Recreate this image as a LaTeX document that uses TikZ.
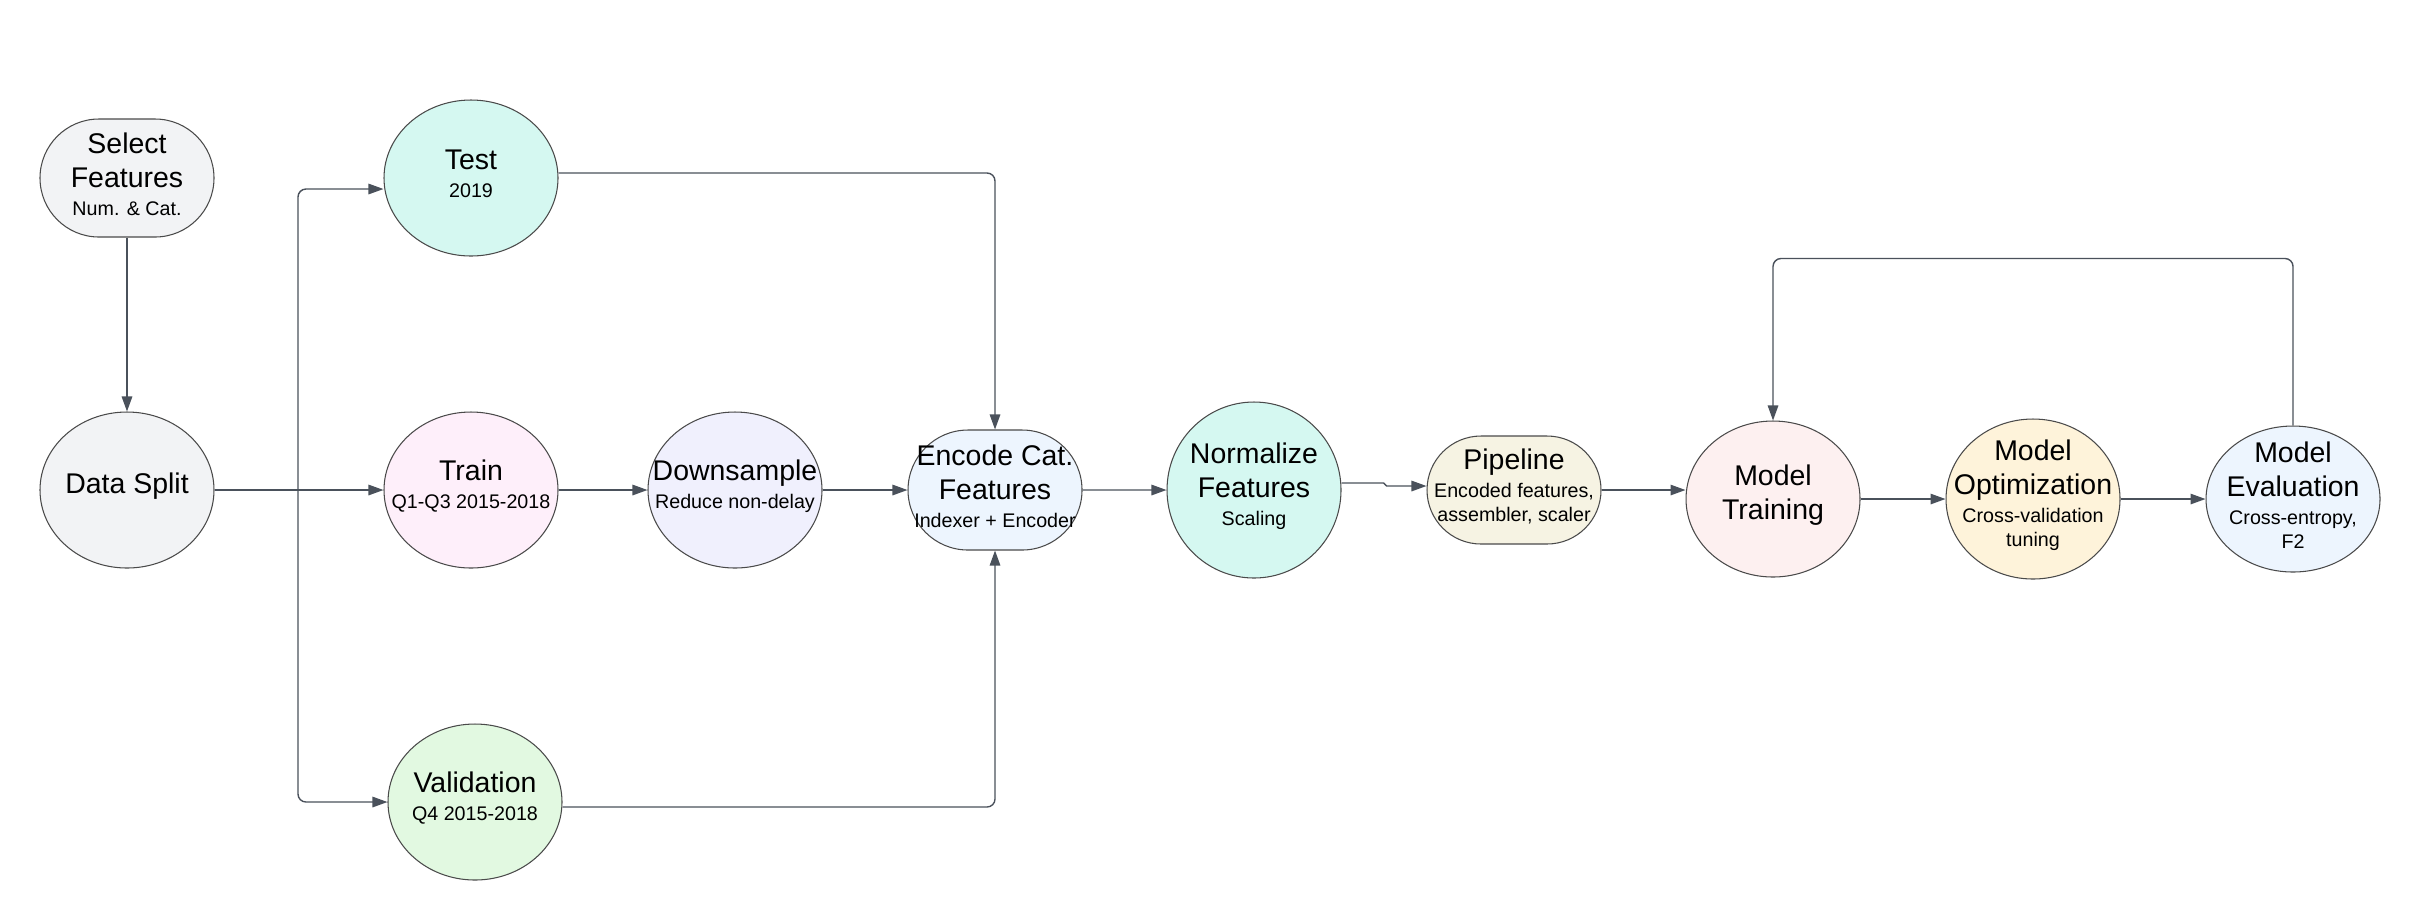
\documentclass[tikz,border=0pt]{standalone}
\usepackage{fontspec}
\setmainfont{Liberation Sans}
\usetikzlibrary{arrows.meta,shapes.geometric,shapes.misc}

\definecolor{cGray}{HTML}{F2F3F5}
\definecolor{cMint}{HTML}{D5F8F1}
\definecolor{cPink}{HTML}{FEEFFA}
\definecolor{cGreen}{HTML}{E2F9E1}
\definecolor{cLav}{HTML}{F0F0FD}
\definecolor{cBlue}{HTML}{EDF5FE}
\definecolor{cCream}{HTML}{F6F3E3}
\definecolor{cRose}{HTML}{FDF0F0}
\definecolor{cSand}{HTML}{FEF3DA}
\definecolor{cEdge}{HTML}{4A4A4A}
\definecolor{cLine}{HTML}{4A515B}

\newcommand{\bigtxt}{\fontsize{8.1}{9.7}\selectfont}
\newcommand{\smalltxt}{\fontsize{5.6}{6.8}\selectfont}

\tikzset{
  stage/.style={draw=cEdge, line width=0.3pt, minimum width=1.74cm},
  oval/.style={stage, ellipse, minimum height=1.56cm},
  pill/.style={stage, rounded rectangle, inner sep=0pt},
  txt/.style={align=center, font=\bigtxt, inner sep=0pt, yshift=0.4mm},
  link/.style={draw=cLine, line width=0.4pt},
  flow/.style={link, -{Triangle[length=1.5mm,width=1.05mm]}}
}

\begin{document}
\begin{tikzpicture}
\useasboundingbox (0,0) rectangle (24.2,-9.2);

% stages
\node[pill, fill=cGray, minimum height=1.18cm,
  label={[txt]center:{Select\\Features\\[-1.7pt]\smalltxt Num. \& Cat.}}] (sel) at (1.27,-1.78) {};
\node[oval, fill=cGray, label={[txt]center:{Data Split}}] (split) at (1.27,-4.90) {};
\node[oval, fill=cMint,
  label={[txt]center:{Test\\[-1.7pt]\smalltxt 2019}}] (test) at (4.71,-1.78) {};
\node[oval, fill=cPink,
  label={[txt]center:{Train\\[-1.7pt]\smalltxt Q1-Q3 2015-2018}}] (train) at (4.71,-4.90) {};
\node[oval, fill=cGreen,
  label={[txt]center:{Validation\\[-1.7pt]\smalltxt Q4 2015-2018}}] (valid) at (4.75,-8.02) {};
\node[oval, fill=cLav,
  label={[txt]center:{Downsample\\[-1.7pt]\smalltxt Reduce non-delay}}] (down) at (7.35,-4.90) {};
\node[pill, fill=cBlue, minimum height=1.20cm,
  label={[txt]center:{Encode Cat.\\Features\\[-1.7pt]\smalltxt Indexer + Encoder}}] (enc) at (9.95,-4.90) {};
\node[oval, fill=cMint, minimum height=1.76cm,
  label={[txt]center:{Normalize\\Features\\[-1.7pt]\smalltxt Scaling}}] (norm) at (12.54,-4.90) {};
\node[pill, fill=cCream, minimum height=1.08cm,
  label={[txt]center:{Pipeline\\[-1.7pt]\smalltxt Encoded features,\\[-2.9pt]\smalltxt assembler, scaler}}] (pipe) at (15.14,-4.90) {};
\node[oval, fill=cRose,
  label={[txt]center:{Model\\Training}}] (mtrain) at (17.73,-4.99) {};
\node[oval, fill=cSand, minimum height=1.60cm,
  label={[txt]center:{Model\\Optimization\\[-1.7pt]\smalltxt Cross-validation\\[-2.9pt]\smalltxt tuning}}] (opt) at (20.33,-4.99) {};
\node[oval, fill=cBlue, minimum height=1.46cm,
  label={[txt]center:{Model\\Evaluation\\[-1.7pt]\smalltxt Cross-entropy,\\[-2.9pt]\smalltxt F2}}] (eval) at (22.93,-4.99) {};

% connectors
\draw[flow] (sel) -- (split);
\coordinate (fork) at (2.98,-4.90);
\draw[link] (split) -- (fork);
\draw[flow, rounded corners=0.8mm] (fork) |- ([yshift=-1.1mm]test.west);
\draw[flow] (fork) -- (train);
\draw[flow, rounded corners=0.8mm] (fork) |- (valid.west);
\draw[flow, rounded corners=0.8mm] ([yshift=0.5mm]test.east) -| (enc.north);
\draw[flow, rounded corners=0.8mm] ([yshift=-0.5mm]valid.east) -| (enc.south);
\foreach \a/\b in {train/down, down/enc, enc/norm, mtrain/opt, opt/eval}
  \draw[flow] (\a) -- (\b);
\draw[flow] ([yshift=0.7mm]norm.east) -- ++(0.42,0) -- ++(0.03,-0.03) -- ([yshift=0.4mm]pipe.west);
\draw[flow] (pipe.east) -- (pipe.east -| mtrain.west);
\draw[flow, rounded corners=0.8mm] (eval.north) -- ++(0,1.67) -| (mtrain.north);
\end{tikzpicture}
\end{document}
